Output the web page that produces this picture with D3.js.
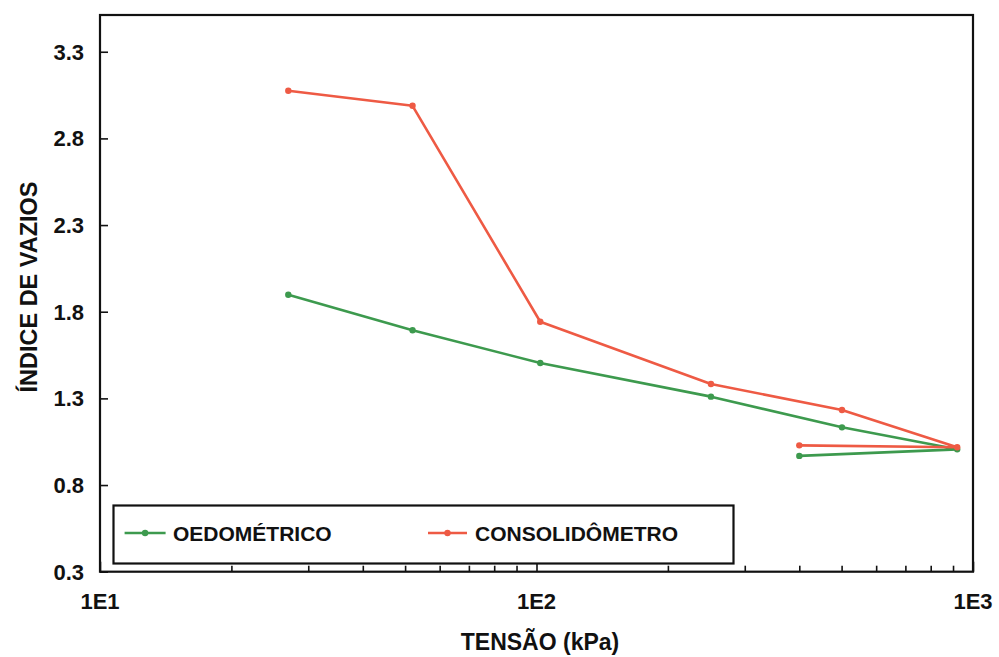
<!DOCTYPE html>
<html>
<head>
<meta charset="utf-8">
<script src="https://cdn.jsdelivr.net/npm/d3@7"></script>
<style>
  body { margin: 0; background: #fff; }
  svg text { font-family: "Liberation Sans", Arial, sans-serif; font-weight: bold; fill: #111; }
</style>
</head>
<body>
<svg></svg>
<script>
// tensão (kPa) de cada ensaio, incluindo o descarregamento final
const tensaoOedo = [27, 52, 102, 251, 501, 920, 400];
const vaziosOedo = [1.898, 1.693, 1.504, 1.31, 1.133, 1.006, 0.968];

const tensaoCons = [27, 52, 102, 251, 501, 920, 400];
const vaziosCons = [3.075, 2.988, 1.742, 1.383, 1.233, 1.018, 1.029];

const yTicks = [0.3, 0.8, 1.3, 1.8, 2.3, 2.8, 3.3];
const xTicks = [10, 100, 1000];
const xTickLabels = ['1E1', '1E2', '1E3'];

const series = [
  { name: 'OEDOMÉTRICO', x: tensaoOedo, y: vaziosOedo, color: '#3d9a4e' },
  { name: 'CONSOLIDÔMETRO', x: tensaoCons, y: vaziosCons, color: '#ee5a44' }
];

const svgWidth = 999;
const svgHeight = 657;
const plotLeft = 100, plotRight = 973, plotTop = 15, plotBottom = 571.7;

const svg = d3.select('svg')
    .attr('width', svgWidth)
    .attr('height', svgHeight);

const xScale = d3.scaleLog()
    .domain([10, 1000])
    .range([plotLeft, plotRight]);

const yScale = d3.scaleLinear()
    .domain([0.3, 3.512])
    .range([plotBottom, plotTop]);

// eixo y: ticks para dentro
const yAxis = svg.append('g')
    .attr('transform', `translate(${plotLeft},0)`)
    .call(d3.axisRight(yScale).tickValues(yTicks).tickSize(8).tickFormat(''));
yAxis.select('.domain').remove();
yAxis.selectAll('line').attr('stroke', '#111').attr('stroke-width', 1.6);

svg.selectAll('.ylab')
    .data(yTicks)
    .enter()
    .append('text')
    .attr('class', 'ylab')
    .attr('x', 84)
    .attr('y', (d) => yScale(d) + 8)
    .attr('text-anchor', 'end')
    .style('font-size', '22px')
    .text((d) => d.toFixed(1));

// eixo x: ticks menores e maiores para dentro
const minorTicks = [];
[10, 100].forEach((dec) => {
  for (let k = 2; k <= 9; k++) minorTicks.push(dec * k);
});

const xMinor = svg.append('g')
    .attr('transform', `translate(0,${plotBottom})`)
    .call(d3.axisTop(xScale).tickValues(minorTicks).tickSize(6).tickFormat(''));
xMinor.select('.domain').remove();
xMinor.selectAll('line').attr('stroke', '#111').attr('stroke-width', 1.6);

const xMajor = svg.append('g')
    .attr('transform', `translate(0,${plotBottom})`)
    .call(d3.axisTop(xScale).tickValues(xTicks).tickSize(10).tickFormat(''));
xMajor.select('.domain').remove();
xMajor.selectAll('line').attr('stroke', '#111').attr('stroke-width', 1.6);

svg.selectAll('.xlab')
    .data(xTicks)
    .enter()
    .append('text')
    .attr('class', 'xlab')
    .attr('x', (d) => xScale(d))
    .attr('y', 609)
    .attr('text-anchor', 'middle')
    .style('font-size', '22px')
    .text((d, i) => xTickLabels[i]);

// moldura
svg.append('rect')
    .attr('x', plotLeft)
    .attr('y', plotTop)
    .attr('width', plotRight - plotLeft)
    .attr('height', plotBottom - plotTop)
    .attr('fill', 'none')
    .attr('stroke', '#111')
    .attr('stroke-width', 2.2);

// curvas
const line = d3.line()
    .x((d) => xScale(d[0]))
    .y((d) => yScale(d[1]));

series.forEach((s) => {
  const pts = s.x.map((v, i) => [v, s.y[i]]);
  svg.append('path')
      .datum(pts)
      .attr('d', line)
      .attr('fill', 'none')
      .attr('stroke', s.color)
      .attr('stroke-width', 2.6)
      .attr('stroke-linejoin', 'round');
  svg.selectAll(null)
      .data(pts)
      .enter()
      .append('circle')
      .attr('cx', (d) => xScale(d[0]))
      .attr('cy', (d) => yScale(d[1]))
      .attr('r', 3.2)
      .attr('fill', s.color);
});

// legenda
svg.append('rect')
    .attr('x', 113.5)
    .attr('y', 505.5)
    .attr('width', 620)
    .attr('height', 58)
    .attr('fill', '#fff')
    .attr('stroke', '#111')
    .attr('stroke-width', 2.2);

const legendPos = [{ x1: 124.6, x2: 165.6, tx: 173 }, { x1: 428, x2: 467, tx: 475 }];
series.forEach((s, i) => {
  const p = legendPos[i];
  svg.append('line')
      .attr('x1', p.x1).attr('x2', p.x2)
      .attr('y1', 533).attr('y2', 533)
      .attr('stroke', s.color)
      .attr('stroke-width', 2.6);
  svg.append('circle')
      .attr('cx', (p.x1 + p.x2) / 2)
      .attr('cy', 533)
      .attr('r', 3.2)
      .attr('fill', s.color);
  svg.append('text')
      .attr('x', p.tx)
      .attr('y', 540.5)
      .style('font-size', '21px')
      .text(s.name);
});

// títulos dos eixos
svg.append('text')
    .attr('x', 540)
    .attr('y', 650)
    .attr('text-anchor', 'middle')
    .style('font-size', '23px')
    .text('TENSÃO (kPa)');

svg.append('text')
    .attr('transform', 'translate(37,287) rotate(-90)')
    .attr('text-anchor', 'middle')
    .style('font-size', '23.5px')
    .text('ÍNDICE DE VAZIOS');
</script>
</body>
</html>
